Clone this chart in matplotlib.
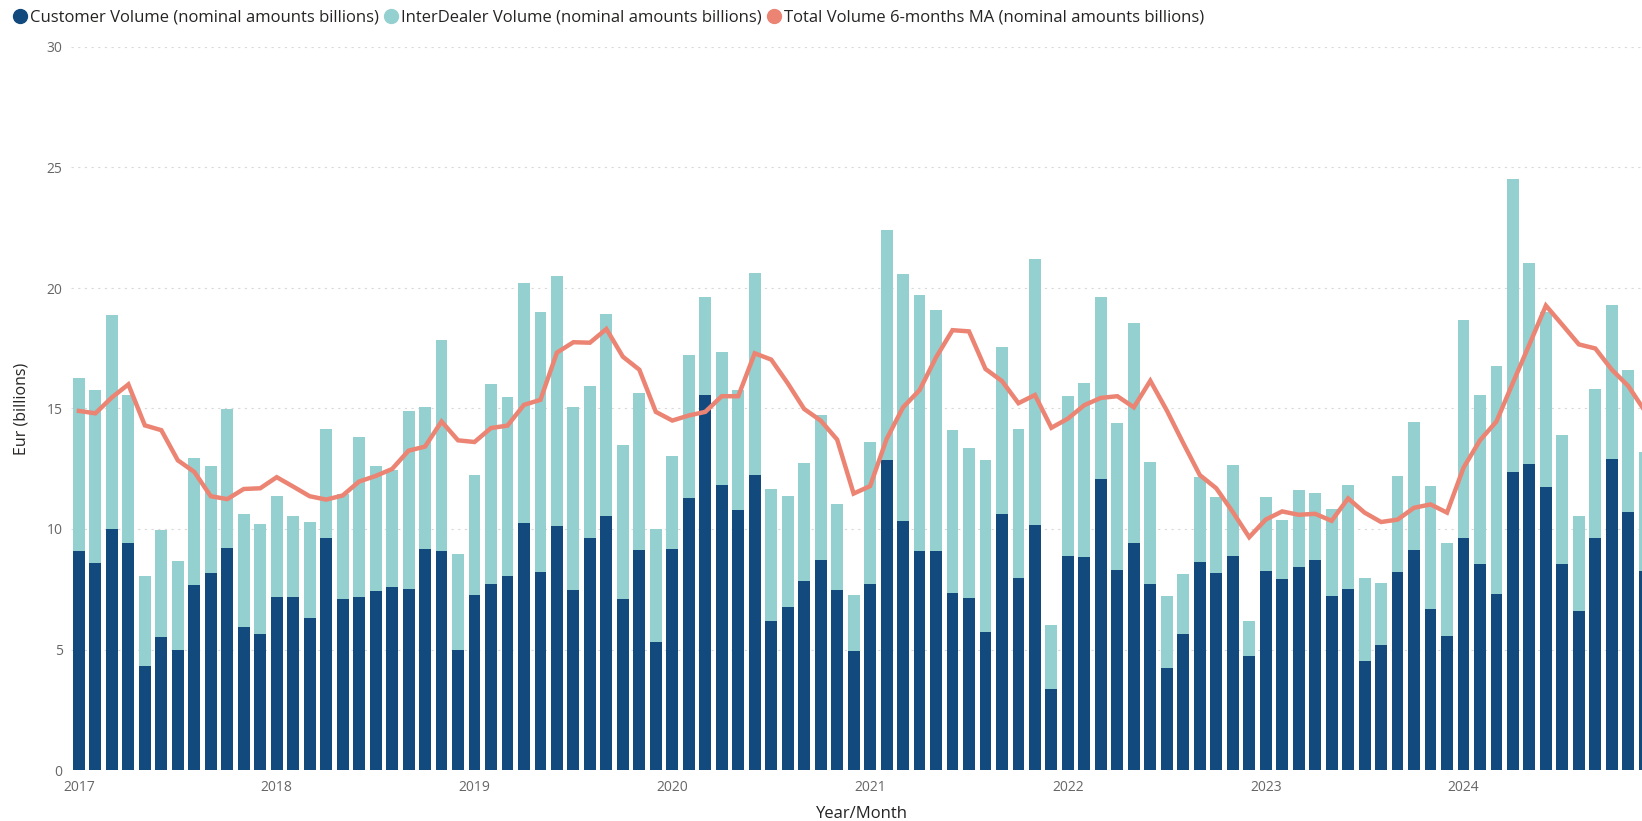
import matplotlib.pyplot as plt
from matplotlib.lines import Line2D
import numpy as np

# monthly values, Jan 2017 .. Dec 2024 (EUR billions)
customer = [9.10, 8.58, 10.02, 9.41, 4.31, 5.53, 5.00, 7.68, 8.17, 9.20, 5.93, 5.66,
            7.19, 7.17, 6.31, 9.61, 7.10, 7.19, 7.44, 7.58, 7.51, 9.17, 9.10, 5.00,
            7.27, 7.73, 8.07, 10.24, 8.22, 10.14, 7.47, 9.64, 10.56, 7.10, 9.12, 5.32,
            9.19, 11.27, 15.58, 11.81, 10.78, 12.24, 6.20, 6.76, 7.86, 8.73, 7.46, 4.92,
            7.73, 12.85, 10.34, 9.10, 9.10, 7.34, 7.14, 5.73, 10.63, 7.97, 10.17, 3.37,
            8.88, 8.83, 12.08, 8.29, 9.41, 7.73, 4.25, 5.66, 8.61, 8.17, 8.88, 4.73,
            8.24, 7.92, 8.41, 8.71, 7.24, 7.51, 4.53, 5.20, 8.22, 9.14, 6.69, 5.56,
            9.63, 8.56, 7.31, 12.37, 12.68, 11.75, 8.56, 6.59, 9.61, 12.92, 10.69, 8.25]

interdealer = [7.15, 7.17, 8.86, 6.17, 3.74, 4.44, 3.68, 5.27, 4.46, 5.77, 4.68, 4.53,
               4.18, 3.37, 4.00, 4.54, 4.34, 6.64, 5.17, 4.88, 7.37, 5.88, 8.75, 3.95,
               4.98, 8.30, 7.39, 9.98, 10.78, 10.35, 7.58, 6.31, 8.36, 6.37, 6.54, 4.68,
               3.84, 5.93, 4.05, 5.53, 5.00, 8.40, 5.46, 4.61, 4.87, 5.98, 3.56, 2.33,
               5.90, 9.57, 10.24, 10.59, 10.00, 6.76, 6.23, 7.13, 6.91, 6.18, 11.02, 2.63,
               6.65, 7.22, 7.56, 6.10, 9.12, 5.03, 2.99, 2.48, 3.54, 3.14, 3.76, 1.47,
               3.07, 2.44, 3.20, 2.80, 3.59, 4.32, 3.45, 2.56, 3.98, 5.28, 5.09, 3.85,
               9.06, 6.98, 9.44, 12.16, 8.34, 7.25, 5.32, 3.95, 6.20, 6.39, 5.90, 4.95]

total_ma6 = [14.90, 14.80, 15.46, 16.00, 14.30, 14.10, 12.85, 12.37, 11.36, 11.24, 11.66, 11.69,
             12.15, 11.76, 11.36, 11.22, 11.39, 11.97, 12.20, 12.49, 13.25, 13.42, 14.46, 13.68,
             13.61, 14.19, 14.29, 15.15, 15.36, 17.32, 17.75, 17.73, 18.30, 17.15, 16.61, 14.86,
             14.50, 14.71, 14.86, 15.51, 15.51, 17.29, 17.03, 16.05, 14.98, 14.50, 13.71, 11.47,
             11.78, 13.73, 15.05, 15.76, 17.12, 18.25, 18.20, 16.64, 16.14, 15.22, 15.56, 14.20,
             14.58, 15.14, 15.44, 15.51, 15.05, 16.15, 14.92, 13.56, 12.24, 11.69, 10.71, 9.66,
             10.39, 10.73, 10.59, 10.63, 10.34, 11.27, 10.68, 10.29, 10.39, 10.88, 11.02, 10.68,
             12.54, 13.68, 14.46, 16.07, 17.66, 19.27, 18.47, 17.66, 17.49, 16.61, 15.93, 14.90]

years = ["2017", "2018", "2019", "2020", "2021", "2022", "2023", "2024"]

c_cust = "#124A7E"
c_inter = "#93D0CF"
c_ma = "#EC8474"
c_grey = "#666666"
c_dark = "#252423"

plt.rcParams['font.family'] = ['Open Sans', 'DejaVu Sans']

fig = plt.figure(figsize=(16.42, 8.21), dpi=100)
ax = fig.add_axes([71 / 1642, 1 - 770 / 821, 1 - 71 / 1642, (770 - 47) / 821])

x = np.arange(len(customer))
ax.bar(x, customer, width=0.72, color=c_cust, zorder=2)
ax.bar(x, interdealer, width=0.72, bottom=customer, color=c_inter, zorder=2)
ax.plot(x, total_ma6, color=c_ma, linewidth=3.2, solid_joinstyle='miter', zorder=3)

ax.set_xlim(-0.48, 94.83)
ax.set_ylim(0, 30)
ax.set_yticks(range(0, 31, 5))
ax.set_xticks(np.arange(len(years)) * 12)
ax.set_xticklabels(years)
ax.tick_params(axis='both', length=0, labelsize=10, labelcolor=c_grey)
ax.tick_params(axis='y', pad=6)
ax.tick_params(axis='x', pad=7)
ax.grid(axis='y', color='#D9D9D9', linestyle=(0, (2, 4)), linewidth=0.8, zorder=0)
for s in ax.spines.values():
    s.set_visible(False)

ax.set_ylabel("Eur (billions)", fontsize=11.5, color=c_dark)
ax.yaxis.set_label_coords((29 - 71) / 1571, 0.5)
fig.text(862 / 1642, 1 - 814 / 821, "Year/Month", fontsize=12, color=c_dark,
         ha='center', va='center')

handles = [Line2D([], [], marker='o', linestyle='none', markersize=10, color=c)
           for c in (c_cust, c_inter, c_ma)]
labels = ["Customer Volume (nominal amounts billions)",
          "InterDealer Volume (nominal amounts billions)",
          "Total Volume 6-months MA (nominal amounts billions)"]
fig.legend(handles, labels, loc='center left', bbox_to_anchor=(14 / 1642, 1 - 18 / 821),
           ncol=3, frameon=False, fontsize=12, labelcolor=c_dark,
           handlelength=0.7, handletextpad=0.25, columnspacing=0.4, borderaxespad=0,
           borderpad=0)

fig.savefig("out.png", dpi=100)
